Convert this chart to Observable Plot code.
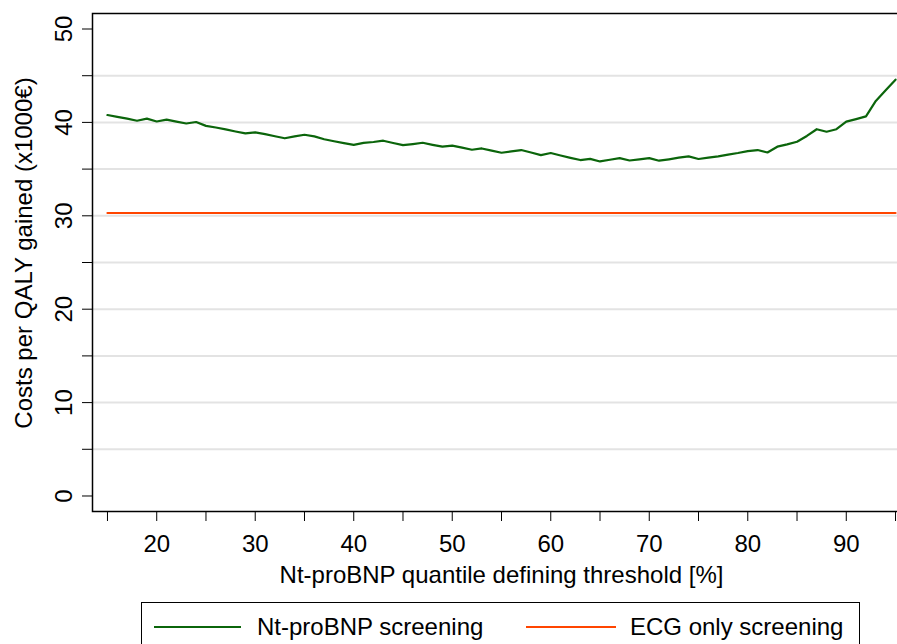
<!DOCTYPE html>
<html>
<head>
<meta charset="utf-8">
<script src="https://cdn.jsdelivr.net/npm/d3@7"></script>
<script src="https://cdn.jsdelivr.net/npm/@observablehq/plot@0.6"></script>
<style>
  html, body { margin: 0; padding: 0; background: #fff; overflow: hidden; width: 897px; height: 644px; }
  #chart { width: 910px; }
  #chart svg { display: block; max-width: none !important; width: 910px; height: 595px; }
  .legend { position: relative; margin-top: 7px; margin-left: 141px; width: 719px; height: 50px; border: 1px solid #000; box-sizing: border-box; font: 24px "Liberation Sans", Arial, sans-serif; color: #000; }
  .legend .sw { position: absolute; top: 23px; height: 2px; }
  .legend .lb { position: absolute; top: 10px; line-height: 28px; white-space: nowrap; }
</style>
</head>
<body>
<div id="chart"></div>
<script>
// Data
const quantiles = [15,16,17,18,19,20,21,22,23,24,25,26,27,28,29,30,31,32,33,34,35,36,37,38,39,40,
  41,42,43,44,45,46,47,48,49,50,51,52,53,54,55,56,57,58,59,60,61,62,63,64,65,66,67,68,69,70,
  71,72,73,74,75,76,77,78,79,80,81,82,83,84,85,86,87,88,89,90,91,92,93,94,95];
const ntprobnpCost = [40.79,40.6,40.4,40.18,40.40,40.10,40.29,40.08,39.88,40.04,39.63,39.45,39.25,39.03,38.82,38.93,
  38.75,38.52,38.30,38.50,38.68,38.50,38.20,37.98,37.78,37.60,37.80,37.90,38.04,37.80,37.56,37.68,37.82,37.60,
  37.40,37.52,37.30,37.07,37.21,36.98,36.75,36.90,37.04,36.78,36.50,36.72,36.45,36.20,35.97,36.10,35.82,36.00,
  36.18,35.92,36.05,36.18,35.90,36.05,36.22,36.36,36.08,36.22,36.36,36.55,36.72,36.93,37.04,36.78,37.40,37.65,
  37.93,38.55,39.27,39.00,39.27,40.08,40.35,40.64,42.30,43.45,44.58];
const ecgQuantiles = [15, 95];
const ecgCost = [30.3, 30.3];

const xTicks = [15,20,25,30,35,40,45,50,55,60,65,70,75,80,85,90,95];
const xLabels = [20,30,40,50,60,70,80,90];
const yTicks = [0,5,10,15,20,25,30,35,40,45,50];
const yLabels = [0,10,20,30,40,50];
const gridLines = [5,10,15,20,25,30,35,40,45];

const seriesNames = ["Nt-proBNP screening", "ECG only screening"];
const seriesColors = ["#0b650b", "#ff4500"];

const ntData = quantiles.map((q, i) => ({q, v: ntprobnpCost[i]}));
const ecgData = ecgQuantiles.map((q, i) => ({q, v: ecgCost[i]}));

const font = "Liberation Sans, Arial, Helvetica, sans-serif";

const chart = Plot.plot({
  width: 910,
  height: 595,
  marginLeft: 92,
  marginRight: 0,
  marginTop: 13,
  marginBottom: 84,
  style: {fontFamily: font, fontSize: "23px", background: "#fff", color: "#000", maxWidth: "none"},
  x: {domain: [13.48, 96.52], axis: null},
  y: {domain: [-1.66, 51.66], axis: null},
  marks: [
    Plot.ruleY(gridLines, {stroke: "#e3e3e3", strokeWidth: 2}),
    Plot.axisX({ticks: xTicks, tickSize: 10, tickPadding: 13, tickFormat: d => xLabels.includes(d) ? String(d) : "", label: null, fontSize: 24, stroke: "#000"}),
    Plot.axisY({ticks: yTicks, tickSize: 10, tickFormat: () => "", label: null, stroke: "#000"}),
    Plot.text(yLabels, {y: d => d, text: d => String(d), frameAnchor: "left", rotate: -90, dx: -28.5, textAnchor: "middle", lineAnchor: "middle", fontSize: 24}),
    Plot.text(["Costs per QALY gained (x1000€)"], {text: d => d, frameAnchor: "left", rotate: -90, dx: -68, dy: -9.5, textAnchor: "middle", lineAnchor: "middle", fontSize: 24}),
    Plot.text(["Nt-proBNP quantile defining threshold [%]"], {text: d => d, frameAnchor: "bottom", dy: 64, textAnchor: "middle", lineAnchor: "middle", fontSize: 24}),
    Plot.line(ecgData, {x: "q", y: "v", stroke: seriesColors[1], strokeWidth: 2.2}),
    Plot.line(ntData, {x: "q", y: "v", stroke: seriesColors[0], strokeWidth: 2.2}),
    Plot.frame({stroke: "#000", strokeWidth: 1.5})
  ]
});
document.getElementById("chart").appendChild(chart);

// Legend below the SVG
const legend = document.createElement("div");
legend.className = "legend";
const items = [
  {sw: 12, sww: 87, lb: 115},
  {sw: 384, sww: 90, lb: 488}
];
seriesNames.forEach((name, i) => {
  const s = document.createElement("div");
  s.className = "sw";
  s.style.left = items[i].sw + "px";
  s.style.width = items[i].sww + "px";
  s.style.background = seriesColors[i];
  legend.appendChild(s);
  const l = document.createElement("div");
  l.className = "lb";
  l.style.left = items[i].lb + "px";
  l.textContent = name;
  legend.appendChild(l);
});
document.body.appendChild(legend);
</script>
</body>
</html>
